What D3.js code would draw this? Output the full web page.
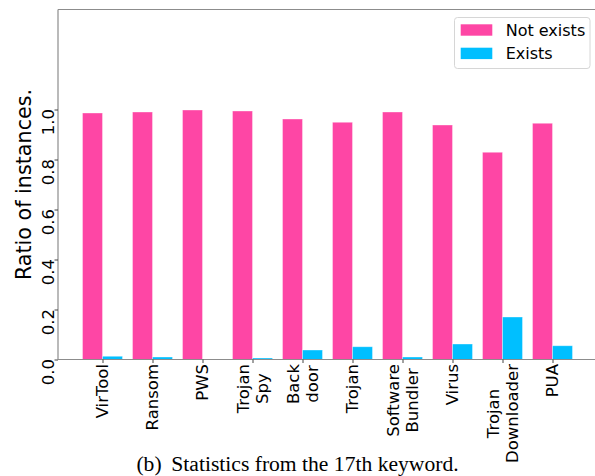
<!DOCTYPE html>
<html>
<head>
<meta charset="utf-8">
<script src="https://cdn.jsdelivr.net/npm/d3@7"></script>
<style>
  html, body { margin: 0; padding: 0; background: #fff; }
  svg { display: block; }
</style>
</head>
<body>
<svg id="chart" width="595" height="476"></svg>
<script>
// Malware families (multi-line names split on "\n")
const categories = ["VirTool", "Ransom", "PWS", "Trojan\nSpy", "Back\ndoor", "Trojan",
                    "Software\nBundler", "Virus", "Trojan\nDownloader", "PUA"];
// Share of instances where the 17th keyword does not / does occur
const notExists = [0.986, 0.990, 0.998, 0.994, 0.962, 0.949, 0.990, 0.938, 0.829, 0.945];
const exists    = [0.013, 0.010, 0.002, 0.006, 0.038, 0.051, 0.010, 0.062, 0.170, 0.055];
const yTicks = [0.0, 0.2, 0.4, 0.6, 0.8, 1.0];
const seriesNames = ["Not exists", "Exists"];
const seriesColors = ["#fe46a5", "#00bfff"];

const svg = d3.select("#chart");
const sans = "'DejaVu Sans', sans-serif";

const plot = { left: 58, top: 9.5, right: 597, bottom: 359.5 };
const barW = 0.4;

const x = d3.scaleLinear()
  .domain([-barW - 0.49, categories.length - 1 + barW + 0.49])
  .range([plot.left, plot.right]);

const y = d3.scaleLinear().domain([0, 1.4]).range([plot.bottom, plot.top]);

// grouped bars: "Not exists" left of the tick, "Exists" right of it
const series = [notExists, exists];
series.forEach((vals, s) => {
  svg.append("g").selectAll("rect")
    .data(vals)
    .join("rect")
    .attr("x", (d, i) => x(i + (s === 0 ? -barW : 0)))
    .attr("width", x(barW) - x(0))
    .attr("y", d => y(d))
    .attr("height", d => y(0) - y(d))
    .attr("fill", seriesColors[s])
    .attr("stroke", "#ffffff")
    .attr("stroke-opacity", 0.45)
    .attr("stroke-width", 0.8);
});

// frame: top spine
const spine = "#8c8c8c";
svg.append("line").attr("x1", plot.left).attr("x2", 595).attr("y1", plot.top).attr("y2", plot.top)
  .attr("stroke", spine).attr("stroke-width", 1.2);

// y axis
const yAxis = svg.append("g")
  .attr("transform", `translate(${plot.left},0)`)
  .call(d3.axisLeft(y).tickValues(yTicks).tickFormat(d3.format(".1f")).tickSize(3.5).tickSizeOuter(0));
yAxis.select(".domain").attr("stroke", spine).attr("stroke-width", 1.2)
  .attr("d", `M0,${plot.top}V${plot.bottom}`);
yAxis.selectAll(".tick line").attr("stroke", "#444").attr("stroke-width", 1);
yAxis.selectAll(".tick text")
  .attr("x", null).attr("dy", null)
  .attr("transform", "translate(-4.5,-1) rotate(-90)")
  .attr("text-anchor", "end")
  .style("font-family", sans).style("font-size", "16.5px").attr("fill", "#000");

// x axis
const xAxis = svg.append("g")
  .attr("transform", `translate(0,${plot.bottom})`)
  .call(d3.axisBottom(x).tickValues(d3.range(categories.length)).tickSize(3.5).tickSizeOuter(0).tickFormat(""));
xAxis.select(".domain").attr("stroke", spine).attr("stroke-width", 1.2)
  .attr("d", `M${plot.left},0H595`);
xAxis.selectAll(".tick line").attr("stroke", "#444").attr("stroke-width", 1);

// rotated, multi-line category labels (lines centred within the block)
const lineH = 19;
categories.forEach((name, i) => {
  const lines = name.split("\n");
  const g = svg.append("g")
    .attr("transform", `translate(${x(i)},${plot.bottom + 4.5}) rotate(-90)`);
  const t = g.append("text")
    .style("font-family", sans).style("font-size", "16.5px").attr("fill", "#000")
    .attr("text-anchor", "middle");
  lines.forEach((ln, k) => {
    t.append("tspan")
      .attr("y", (k - (lines.length - 1) / 2) * lineH + 5.8)
      .text(ln);
  });
  const w = d3.max(t.selectAll("tspan").nodes(), n => n.getComputedTextLength());
  t.selectAll("tspan").attr("x", -w / 2);
});

// y label
svg.append("text")
  .attr("transform", `translate(31,${(plot.top + plot.bottom) / 2}) rotate(-90)`)
  .attr("text-anchor", "middle")
  .style("font-family", sans).style("font-size", "20.7px").attr("fill", "#000")
  .text("Ratio of instances.");

// legend
const lg = svg.append("g");
lg.append("rect").attr("x", 454.5).attr("y", 17.5).attr("width", 135.5).attr("height", 51)
  .attr("rx", 3).attr("fill", "#fff").attr("stroke", "#d6d6d6").attr("stroke-width", 1);
seriesNames.forEach((nm, s) => {
  lg.append("rect").attr("x", 460.7).attr("y", 24.3 + s * 23.4).attr("width", 31.6).attr("height", 11.4)
    .attr("fill", seriesColors[s]);
  lg.append("text").attr("x", 505.7).attr("y", 35.7 + s * 23.4)
    .style("font-family", sans).style("font-size", "16px").attr("fill", "#000")
    .text(nm);
});

// caption
const cap = svg.append("text")
  .attr("x", 297.5).attr("y", 471)
  .attr("text-anchor", "middle")
  .style("font-family", "'Liberation Serif', 'Times New Roman', serif").style("font-size", "21.6px")
  .attr("fill", "#000");
cap.append("tspan").text("(b)");
cap.append("tspan").attr("dx", "0.45em").text("Statistics from the 17th keyword.");
</script>
</body>
</html>
